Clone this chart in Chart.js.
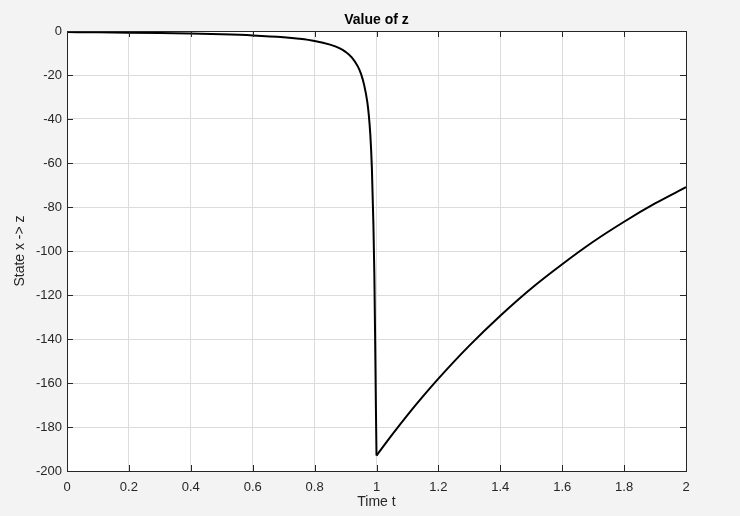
<!DOCTYPE html>
<html>
<head>
<meta charset="utf-8">
<title>Value of z</title>
<script src="https://cdn.jsdelivr.net/npm/chart.js@4/dist/chart.umd.min.js"></script>
<style>
  html, body { margin: 0; padding: 0; background: #f3f3f3; }
  #wrap { width: 740px; height: 516px; }
</style>
</head>
<body>
<div id="wrap"><canvas id="plot" width="740" height="516"></canvas></div>
<script>
// ================= DATA =================
// branch before the jump at t = 1
const tBefore = [0, 0.1, 0.2, 0.3, 0.4, 0.5, 0.6, 0.7, 0.75, 0.8, 0.85, 0.88, 0.9, 0.92, 0.94, 0.95, 0.96, 0.97, 0.975, 0.98, 0.985, 0.99, 0.993, 0.996, 0.998, 1.0];
const zBefore = [-0.5, -0.6, -0.75, -0.93, -1.17, -1.5, -2.0, -2.83, -3.5, -4.5, -6.2, -7.8, -9.5, -12, -16.2, -19.5, -24.5, -32, -38, -47, -62, -88, -110, -145, -170, -193];
// branch after the jump
const tAfter = [1.0, 1.05, 1.1, 1.15, 1.2, 1.3, 1.4, 1.5, 1.6, 1.7, 1.8, 1.9, 2.0];
const zAfter = [-193, -183.6, -174.6, -166.1, -158, -143, -129.4, -117, -106, -95.8, -86.7, -78.4, -71];

const xTicks = [0, 0.2, 0.4, 0.6, 0.8, 1, 1.2, 1.4, 1.6, 1.8, 2];
const yTicks = [-200, -180, -160, -140, -120, -100, -80, -60, -40, -20, 0];

const FONT = "'Liberation Sans', Arial, sans-serif";
const INK = "#262626";

const toPoints = (xs, ys) => xs.map((x, i) => ({ x, y: ys[i] }));

// ================= PLUGINS =================
// white plot area, black box, inward ticks on all four sides
const boxPlugin = {
  id: "box",
  beforeDraw(chart) {
    const { ctx, chartArea: a } = chart;
    ctx.save();
    ctx.fillStyle = "#ffffff";
    ctx.fillRect(a.left, a.top, a.right - a.left, a.bottom - a.top);
    ctx.restore();
  },
  afterDraw(chart) {
    const { ctx, chartArea: a, scales } = chart;
    ctx.save();
    ctx.strokeStyle = INK;
    ctx.lineWidth = 1;
    ctx.beginPath();
    xTicks.forEach(v => {
      const px = Math.round(scales.x.getPixelForValue(v)) + 0.5;
      ctx.moveTo(px, a.bottom); ctx.lineTo(px, a.bottom - 6);
      ctx.moveTo(px, a.top); ctx.lineTo(px, a.top + 6);
    });
    yTicks.forEach(v => {
      const py = Math.round(scales.y.getPixelForValue(v)) + 0.5;
      ctx.moveTo(a.left, py); ctx.lineTo(a.left + 6, py);
      ctx.moveTo(a.right, py); ctx.lineTo(a.right - 6, py);
    });
    ctx.stroke();
    ctx.strokeRect(Math.round(a.left) + 0.5, Math.round(a.top) + 0.5,
      Math.round(a.right - a.left), Math.round(a.bottom - a.top));
    ctx.restore();
  }
};

// ================= CHART =================
const line = {
  borderColor: "#000000",
  borderWidth: 2,
  pointRadius: 0,
  fill: false,
  cubicInterpolationMode: "monotone"
};

new Chart(document.getElementById("plot"), {
  type: "line",
  data: {
    datasets: [
      { ...line, label: "z", data: toPoints(tBefore, zBefore) },
      { ...line, label: "z2", data: toPoints(tAfter, zAfter) }
    ]
  },
  options: {
    responsive: false,
    animation: false,
    layout: { padding: { left: 0, right: 54, top: 0, bottom: 0 } },
    plugins: {
      legend: { display: false },
      tooltip: { enabled: false },
      title: {
        display: true,
        text: "Value of z",
        fullSize: false,
        color: "#000000",
        font: { family: FONT, size: 14, weight: "bold", lineHeight: 1.2 },
        padding: { top: 12, bottom: 2.2 }
      }
    },
    scales: {
      x: {
        type: "linear",
        min: 0,
        max: 2,
        afterBuildTicks: s => { s.ticks = xTicks.map(v => ({ value: v })); },
        afterFit: s => { s.height = 45; },
        grid: { color: "#dcdcdc", drawTicks: false },
        border: { display: false },
        ticks: {
          color: INK,
          padding: 9,
          maxRotation: 0,
          font: { family: FONT, size: 13 },
          callback: v => String(Math.round(v * 10) / 10)
        },
        title: {
          display: true,
          text: "Time t",
          color: INK,
          font: { family: FONT, size: 14, lineHeight: 1.2 },
          padding: { top: 0, bottom: 5.6 }
        }
      },
      y: {
        type: "linear",
        min: -200,
        max: 0,
        afterBuildTicks: s => { s.ticks = yTicks.map(v => ({ value: v })); },
        afterFit: s => { s.width = 67; },
        grid: { color: "#dcdcdc", drawTicks: false },
        border: { display: false },
        ticks: { color: INK, padding: 5, font: { family: FONT, size: 13 } },
        title: {
          display: true,
          text: "State x -> z",
          color: INK,
          font: { family: FONT, size: 14, lineHeight: 1.2 },
          padding: { top: 11.6, bottom: 0 }
        }
      }
    }
  },
  plugins: [boxPlugin]
});
</script>
</body>
</html>
